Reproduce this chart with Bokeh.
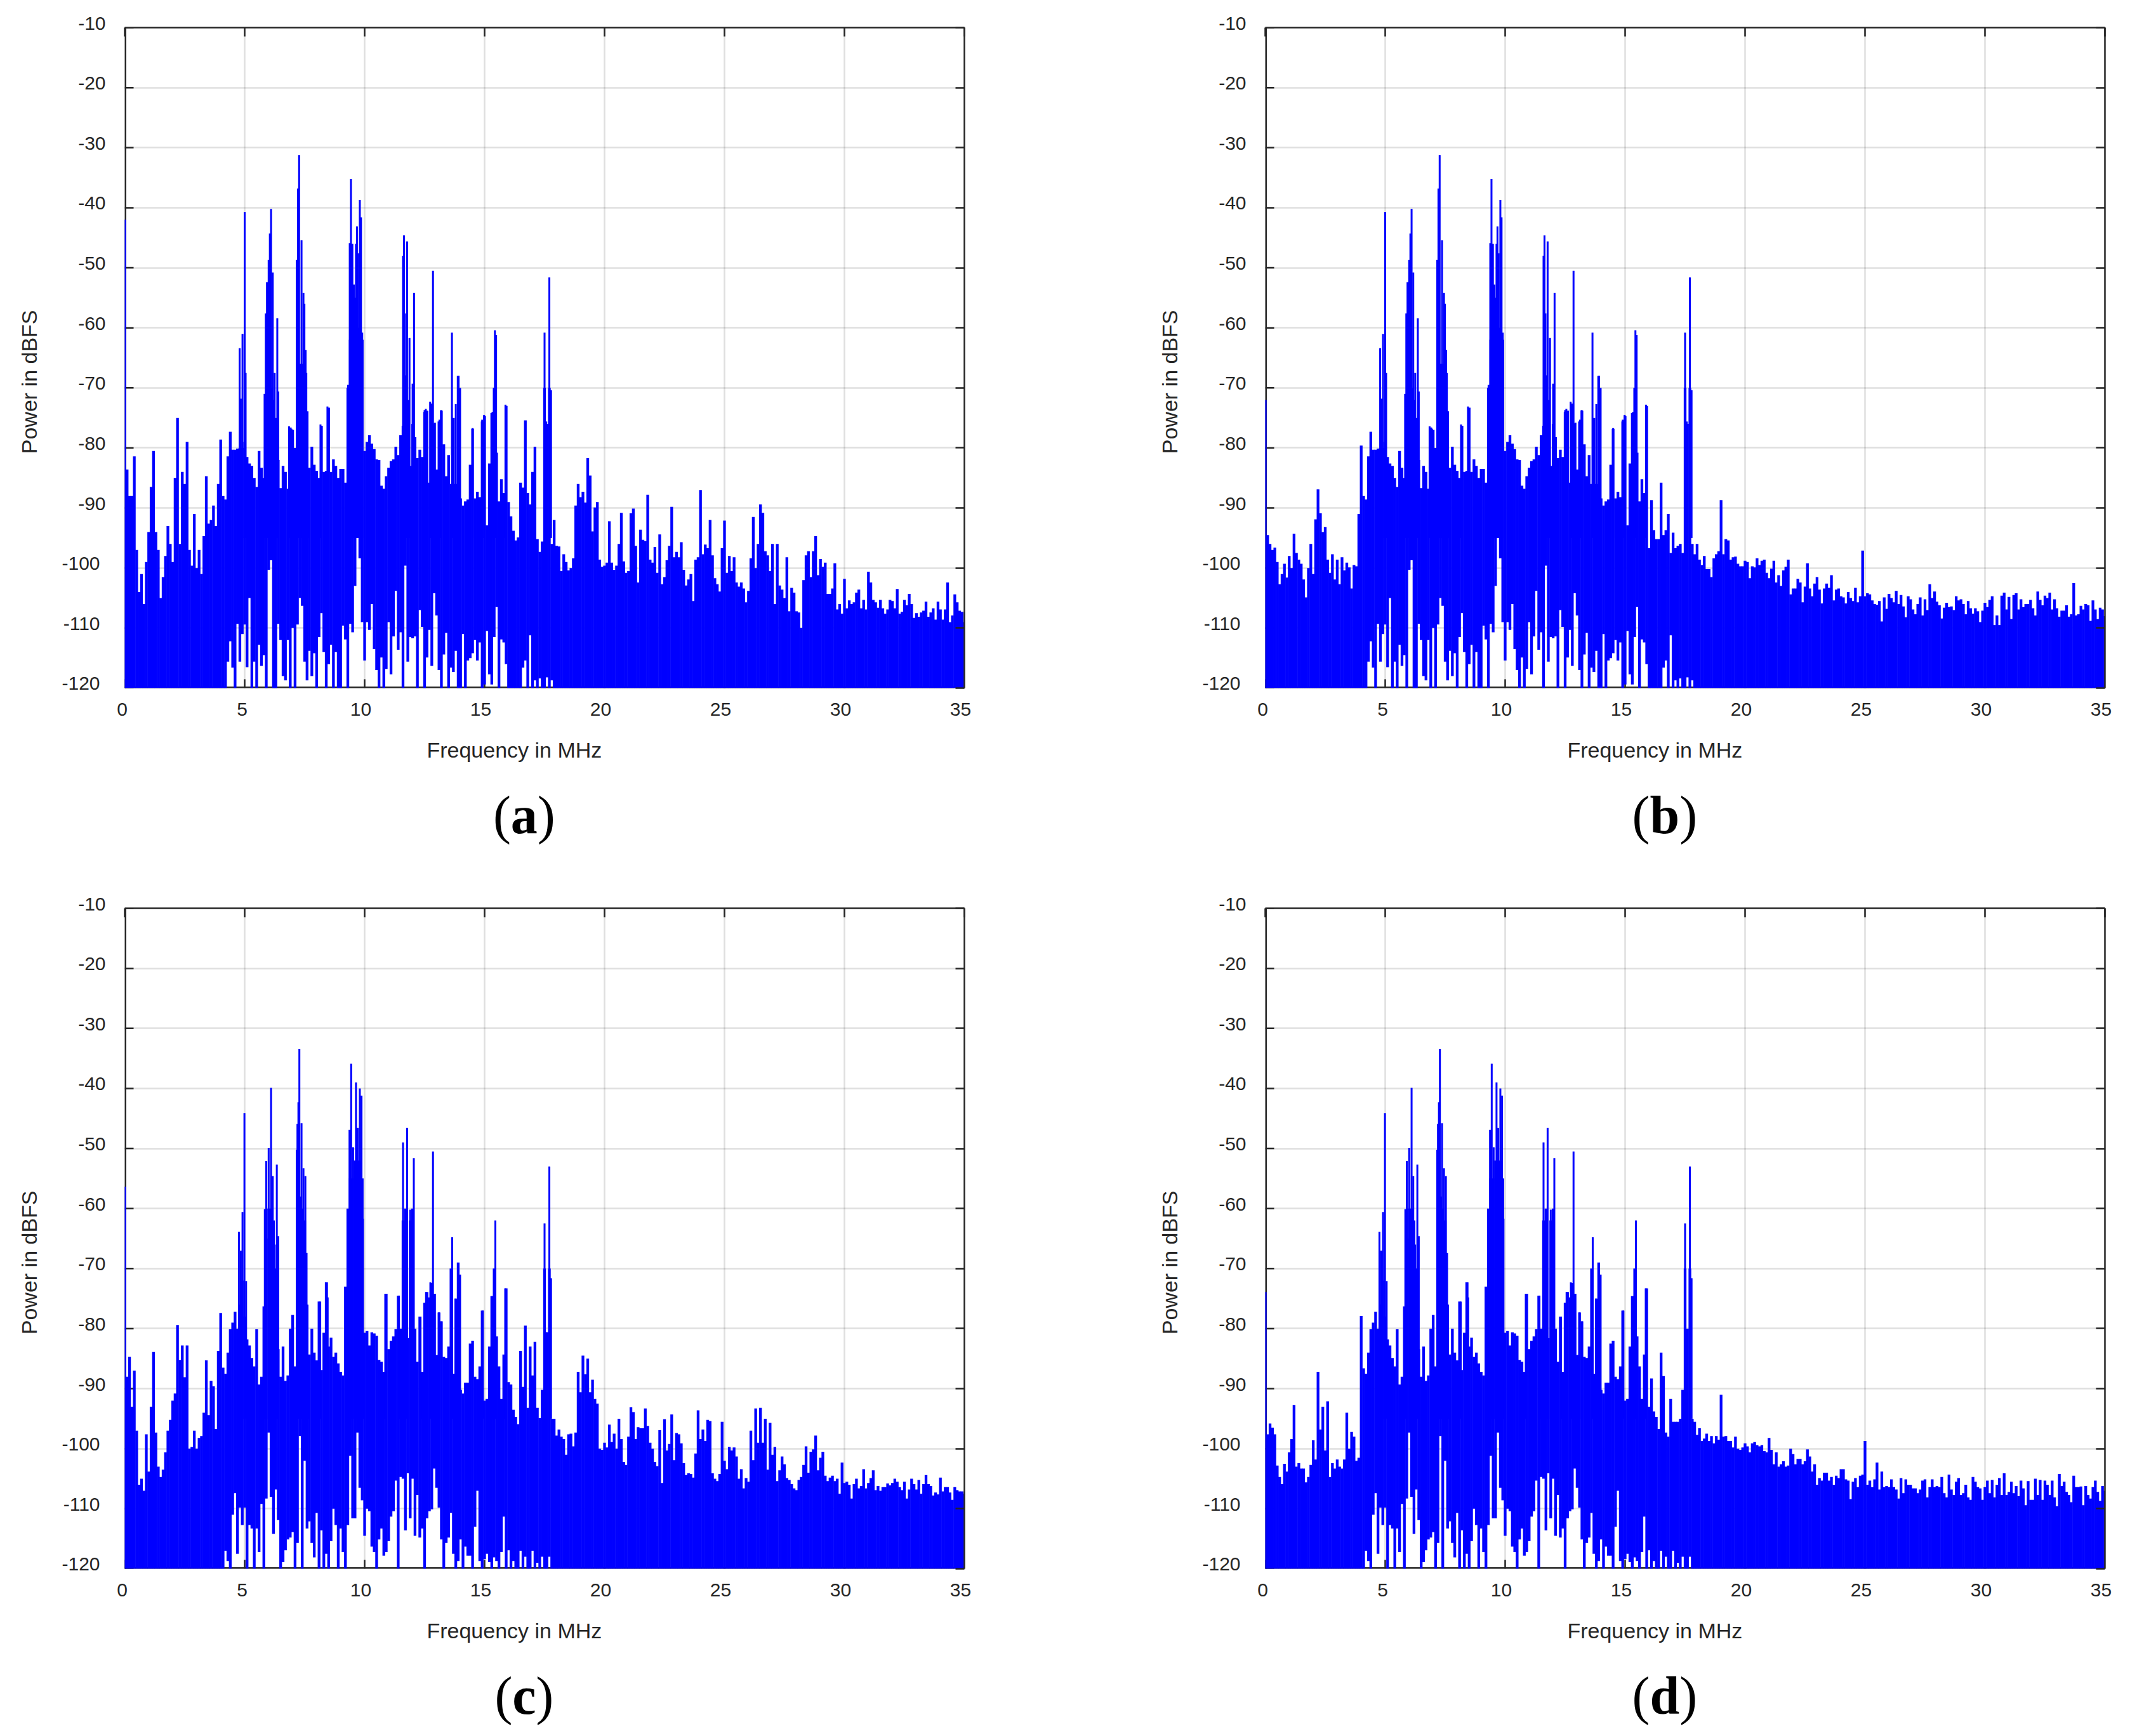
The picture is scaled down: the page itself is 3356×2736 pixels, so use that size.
from bokeh.plotting import figure
from bokeh.layouts import column, row
from bokeh.models import FixedTicker, LinearAxis
from bokeh.core.properties import value
from bokeh.embed import file_html
from bokeh.resources import INLINE

# ---------- values (dBFS per 0.1 MHz bin) ----------
x_ticks = [0, 5, 10, 15, 20, 25, 30, 35]
y_ticks = [-120, -110, -100, -90, -80, -70, -60, -50, -40, -30, -20, -10]
panel_names = ["a", "b", "c", "d"]
x_title = "Frequency in MHz"
y_title = "Power in dBFS"

low_a = [-42,-83.6,-88,-88,-81.4,-97,-104,-101,-106,-99,
         -94,-86.5,-80.5,-94,-97,-105,-101.5,-98,-93,-96,
         -99,-85,-75,-96,-84,-86,-79,-97,-99.6,-91,
         -100,-97,-101,-94.7,-84.7,-92.6,-92,-89.6,-93,-86,
         -78.6,-88]
low_b = [-72,-94.5,-96,-97,-96.6,-99,-102.7,-101,-99.3,-101.6,
         -98,-100,-94.3,-97.5,-98.6,-99.3,-101.9,-104.9,-100,-96,
         -101,-91.9,-86.9,-90.9,-94,-93.2,-98.6,-100.8,-97.7,-101.9,
         -98.6,-102.7,-98.2,-100.4,-99.1,-99.9,-103.4,-99.5,-99.7,-91,
         -79.6,-88]
low_c = [-56.4,-88,-84.7,-93,-87,-97,-106,-105,-107,-97.6,
         -103.8,-93,-83.9,-97.3,-103,-104.7,-103.5,-100.6,-97,-95.2,
         -92,-90.8,-79.4,-85.2,-82.8,-88.1,-82.8,-100,-99.7,-97,
         -100,-98.2,-97.9,-94,-85.3,-94.4,-88.7,-89.6,-96.7,-83.7,
         -77.4,-86.5]
low_d = [-73.9,-97.6,-95.8,-96.5,-97.6,-102.8,-104.7,-105.9,-102.5,-103.8,
         -100.6,-98.4,-92.7,-103,-102.4,-103.3,-103.3,-105.6,-104.7,-102.7,
         -98.6,-101.8,-87.2,-96.8,-93,-100.3,-92.1,-104.7,-102.4,-103.3,
         -101.8,-103,-103.3,-101.8,-94,-100,-97.2,-98,-102,-101.5,
         -77.9,-86.6]

mid_ab = [-88.6,-81.4,-77.3,-80.3,-80.3,-80.1,-80,-80,-79,-81.5,
          -82.6,-83,-85,-86.5,-80.5,-83.3,-85,-72,-70,-70,
          -72,-75,-82,-86.7,-83,-84,-86.8,-76.6,-77,-80,
          -70,-66,-66,-68,-74,-83.3,-79.8,-82.8,-83.8,-85,
          -76.3,-84,-83.8,-73.3,-84,-81.9,-83,-85,-83.5,-83.5,
          -85.8,-70,-62,-60,-60,-60,-60,-62,-80.5,-79,
          -77.9,-79.3,-80.2,-81.9,-82,-86.3,-86.8,-84.7,-83.3,-82.2,
          -81.9,-79.8,-81.2,-77.9,-76.3,-75,-72,-83,-76,-78.2,
          -81.7,-80.3,-81.5,-74,-73.8,-85.8,-72.6,-75.9,-83.6,-75.6,
          -73.8,-79.4,-84.7,-81.2,-86,-75,-86,-68,-88.4,-89.6,
          -88.9,-88.6,-82.8,-76.8,-88.4,-87.3,-88.2,-75.6,-74.7,-92.9,
          -82.6,-74.2,-70,-80.8,-88.9,-85.2,-87.5,-73]
tail_a = [-89,-91.4,
          -93.8,-95.4,-94.9,-85.8,-86.6,-75.4,-87.5,-89.4,-84,-79.8,
          -95.2,-97.3,-95.6,-70,-76,-70,-96]
tail_b = [-96.7,-88.7,
          -93.7,-95.2,-95.2,-85.8,-94.5,-93.7,-91,-97.5,-94.1,-96.7,
          -96.3,-96,-97.5,-70,-76,-70,-96]

mid_cd = [-87.5,-84,-80.1,-79,-77.2,-80,-76,-72,-78,-81.8,
          -82.8,-84.9,-86.3,-80.1,-89.3,-88,-76.3,-65,-60,-60,
          -62,-70,-83.4,-88,-83,-88.7,-87.8,-80,-77.7,-86.3,
          -60,-58,-60,-62,-76,-84.3,-80,-84,-85.3,-75.5,
          -86.9,-80.7,-72.3,-83,-81.5,-84.7,-84,-85.8,-87.2,-87.8,
          -73,-60,-55,-55,-52,-52,-52,-55,-80.7,-80.4,
          -82.8,-80.6,-80.8,-81.2,-85.2,-85.5,-87.2,-74.2,-83.4,-82,
          -81.3,-80.1,-74.5,-80,-62,-60,-81.6,-62,-60,-80,
          -85.5,-78,-87.2,-75.7,-73.9,-74.8,-72.4,-74.2,-84.4,-77.3,
          -78.8,-84.7,-84.9,-83,-70,-87.5,-75,-69,-90.2,-90.8,
          -89,-89,-82.5,-82,-88,-88.4,-86.3,-77,-92,-91.7,
          -83,-74.6,-70,-81.3,-86.3,-91.7,-84.3,-73.3]
tail_c = [-88.9,-89.3,
          -93.5,-94.7,-95.9,-83.7,-89.7,-79.5,-93.2,-83,-87.8,-82.2,
          -93.2,-94.9,-90.2,-70,-80.6,-70,-95]
tail_d = [-93,-88.3,
          -93.8,-94.7,-96.7,-84,-87.9,-97.3,-98,-91.7,-95.5,-95.5,
          -95.5,-95,-90.2,-70,-80,-70,-95]

high_a = [-92,-96.3,-96.4,-100.5,-97.7,-99,-100.4,-100,-98.4,-89.6,
          -86,-88.2,-87.3,-89.1,-81.7,-84.6,-93.9,-89.9,-89,-98.6,
          -99.8,-99.6,-99.1,-92.2,-99.1,-100.3,-99.6,-96,-90.8,-98.9,
          -100.8,-100.5,-90.9,-90.1,-96.3,-102.4,-93.6,-95.3,-95.5,-87.8,
          -98.6,-99.1,-96.5,-100.8,-94.4,-102.7,-101.5,-98.7,-96.3,-89.8,
          -98.2,-97.3,-98.2,-95.7,-100.3,-102.9,-101.9,-101,-105.5,-98.6,
          -98.2,-87,-97.7,-96.1,-96.7,-92,-97.9,-101.7,-102.7,-103.9,
          -96.7,-92.1,-100.8,-98,-100.5,-98.2,-102.4,-103.1,-102.4,-103.4,
          -105.7,-103.8,-98.4,-91.5,-100,-96,-89.4,-90.8,-97.2,-97.9,
          -100.5,-96,-106,-96,-102.9,-103.6,-105,-98.2,-107.2,-103.3,
          -104.1,-107.2,-107.4,-110,-102,-97.9,-97.2,-101.5,-97.2,-94.7,
          -101.2,-98.5,-99.8,-99.1,-104.3,-104.3,-103.4,-99.2,-106.9,-106,
          -107.6,-101.8,-106.7,-105.4,-106,-105.7,-104.1,-103.6,-106.7,-105.3,
          -106.9,-100.6,-102.4,-105.3,-105.7,-106.6,-105.3,-106.7,-107.6,-106.9,
          -105.3,-105.5,-106.7,-103.5,-107.6,-107.3,-105.3,-106.2,-104.3,-106,
          -108.3,-107.5,-108.1,-107.4,-107.1,-105.6,-108.1,-107.4,-106.7,-108.6,
          -105.6,-106.9,-108.6,-106.9,-102.4,-109,-107.9,-104.4,-105.7,-107.1,
          -107.3,-109]
high_b = [-97.7,-96,-98.6,-99.5,-98,-100.2,-100.2,-101.5,-98.4,-97.7,
          -97.2,-88.7,-97.7,-95.2,-95.4,-98.6,-98.2,-98.1,-99.3,-99.7,
          -99.7,-98.8,-99,-101.7,-99.7,-99.9,-98.4,-99.5,-98.8,-98.6,
          -100.8,-101.7,-100.1,-98.8,-102.4,-101.2,-103,-100.4,-99.8,-98.6,
          -104.4,-103.4,-103.4,-101.8,-102.4,-105.7,-103.1,-99.2,-103.4,-104.7,
          -102.6,-101.5,-103.6,-105.9,-103.4,-102.6,-103.3,-101.2,-105.4,-103.6,
          -103.4,-104.7,-104.9,-105.9,-104,-105,-105.5,-103.3,-105.7,-104.7,
          -97.1,-104.7,-104.2,-104.4,-105.4,-106,-106.1,-105.5,-108.9,-104.9,
          -106.8,-104.3,-105,-105.7,-103.8,-106,-104.5,-106.4,-108.2,-104.7,
          -105.2,-106.9,-107.7,-106,-104.9,-107.9,-105.2,-107,-102.7,-105,
          -103.9,-105.6,-106.2,-108.4,-106.6,-105.8,-106.5,-106.4,-107,-104.7,
          -105.4,-105.2,-106,-107.7,-105.5,-106.7,-107.6,-106.7,-107.2,-109,
          -107.1,-105.8,-106.5,-105.3,-104.7,-109.5,-107.9,-109.5,-104.6,-104.1,
          -106.9,-104.8,-108.5,-104.5,-104.2,-106.9,-105.2,-106.5,-106,-106,
          -105.3,-106.7,-107.9,-103.9,-105.3,-106.2,-104.6,-105,-104.1,-106.9,
          -105.2,-106.7,-108.1,-107.1,-107.1,-106.2,-108.1,-107.7,-102.5,-107.9,
          -107.7,-106.3,-106.9,-106,-106.2,-108.8,-105.4,-106.9,-108.5,-106.6,
          -106.9,-108]
high_c = [-95,-97.8,-96.8,-98,-98.4,-101,-97.6,-97.5,-99.6,-97.3,
          -87.2,-90.6,-84.5,-87.6,-85,-90.6,-88.5,-91.7,-92.5,-100,
          -100.2,-99,-99.8,-96,-98.9,-97.5,-100,-95,-98.4,-102.2,
          -102.7,-98,-93.1,-93.9,-98.4,-96.4,-96.6,-96.6,-93.3,-96.2,
          -99,-100,-102.2,-102.9,-96.9,-105.7,-95.1,-100.3,-99.2,-94.3,
          -101.9,-97.4,-97.6,-99.1,-102.4,-104.4,-104.1,-104.2,-104.8,-100.8,
          -93.6,-98.4,-96.8,-98.7,-95.2,-95.4,-104.1,-105,-105.4,-104.2,
          -95.5,-102,-103.4,-99.7,-100.3,-99.8,-101.3,-105,-103.4,-106.6,
          -104.9,-105.5,-97,-101.9,-93.3,-99,-93.2,-99,-95,-103.5,
          -95.7,-101,-99.7,-105.4,-103.6,-101.3,-102.6,-104.9,-105.2,-105.9,
          -106.6,-106.9,-105.2,-104.7,-102.7,-99.6,-104,-100.5,-100.1,-97.8,
          -103.6,-101.5,-100.5,-104.5,-105.4,-104.8,-104.5,-105.4,-105,-107.5,
          -102.3,-105.7,-105.5,-106,-108.3,-105.9,-105,-106.6,-106.2,-103.4,
          -106.6,-105.7,-104.9,-103.6,-106.9,-106.2,-107,-106.4,-106.4,-105.8,
          -106.1,-105.7,-105,-105.5,-106.4,-106.9,-105.5,-108.3,-106.8,-105,
          -105.9,-106.8,-105.2,-107.5,-105.9,-104.4,-105.9,-106.2,-107.8,-107.3,
          -107.6,-104.8,-107.1,-106.4,-106.4,-107.3,-108.5,-106.4,-106.9,-107.1,
          -107.1,-107.5]
high_d = [-95.5,-97.7,-96.6,-98.7,-98.3,-97.5,-98.7,-97.9,-99.1,-97.9,
          -98.5,-91,-98,-97.9,-98.7,-98.7,-99.8,-98,-100,-100.2,
          -99.8,-99.1,-99.6,-100.6,-99.1,-98.9,-99.4,-99.6,-99.4,-100.4,
          -100.6,-98.2,-100.2,-102.6,-100.6,-103,-102.6,-102.1,-103,-102.8,
          -100,-100.9,-102.6,-101.7,-101.7,-102.6,-102.1,-100.1,-101.3,-103.8,
          -102.6,-106,-104.9,-105.3,-104,-104,-105.3,-104.7,-106,-104.5,
          -104.9,-103.4,-103.4,-105.1,-105.3,-108.4,-105.5,-104.9,-106.4,-104.5,
          -104.3,-98.7,-106,-105.3,-106.4,-105.1,-102.3,-106.8,-103.8,-106.4,
          -106.2,-106.4,-105.1,-106.4,-106.8,-108.3,-104.9,-107.4,-105.1,-106,
          -106,-106.6,-106.6,-107.4,-106.8,-105.3,-105.1,-108.1,-106.4,-105.1,
          -106.4,-106.2,-106.4,-104.7,-107.4,-108.1,-104.3,-106.8,-107.7,-105.5,
          -104.9,-107.7,-107.4,-106,-108.1,-108.5,-104.7,-105.5,-106.4,-106.6,
          -108.5,-106.4,-105.3,-107.4,-105.2,-108.1,-106,-104.9,-107.7,-104.1,
          -107.7,-107.2,-105.5,-107.4,-106.2,-107.9,-105.3,-106.6,-109.4,-105.4,
          -108.5,-108.5,-105,-107.7,-105.2,-108.5,-105.3,-106,-107.7,-105.3,
          -108.1,-109.6,-104.2,-106.2,-105.5,-107.2,-107.7,-108.9,-104.5,-106.4,
          -106.4,-106.3,-109.4,-106.2,-107.7,-108.3,-106.4,-105.3,-107.2,-108.7,
          -106.2,-107]

# lower edge of the solid blue, 4.2 to 17.8 MHz (floor elsewhere)
under_ab = [-120,-115.6,-112.2,-116.6,-120,-109.3,-115.6,-111,-109.4,-116.5,
            -105,-120,-115.6,-120,-112.8,-116.3,-114.5,-120,-100.3,-98.7,
            -120,-120,-109.3,-112,-118,-118.7,-112,-120,-110,-120,
            -109.4,-105,-106.3,-115.6,-118.7,-113.8,-118,-114.2,-120,-111.5,
            -107.5,-114,-120,-116,-112.8,-120,-114,-120,-120,-109.6,
            -111.9,-120,-109.3,-110.7,-103,-92.6,-98.4,-109,-115.4,-109,
            -110.3,-106,-113.5,-117,-120,-114.9,-120,-116.8,-109,-117.7,
            -111.4,-103.8,-113.6,-110.7,-120,-99.6,-115.6,-111.5,-111.7,-111.4,
            -120,-107,-109.8,-120,-114.9,-110.3,-116.3,-104.2,-107.9,-117,
            -120,-114.4,-110.8,-120,-116.6,-117.3,-113.8,-120,-120,-111,
            -120,-115.4,-115,-114.2,-112,-115.4,-112.4,-120,-119.4,-110.5,
            -117.7,-119.4,-111.5,-106.5,-120,-111.9,-112.4,-116,-120,-120,
            -120,-120,-120,-120,-116.6,-115.4,-120,-111.2,-120,-118.7,
            -120,-118.4,-120,-120,-118.2,-120,-118.7]
under_cd = [-117,-118.7,-120,-111,-107.4,-117.5,-109.8,-112.7,-109.8,-120,
            -112.7,-113.3,-120,-113.3,-117.2,-109.2,-120,-108.3,-97.3,-108,
            -114.2,-106.8,-111.9,-120,-118.9,-116.9,-115.1,-114.8,-113.9,-120,
            -115.7,-97.9,-120,-102,-113.3,-112.1,-115.7,-118.1,-110.7,-120,
            -113.6,-120,-117.5,-120,-115.4,-110,-112.7,-120,-113.3,-117.2,
            -120,-112.7,-101.2,-111.6,-111.6,-97.3,-106.5,-108.6,-114.5,-110,
            -110.4,-116.3,-117.2,-120,-115.1,-113.3,-117.8,-117.2,-115.4,-111.3,
            -110.4,-105.3,-120,-104.7,-105,-113.6,-104.1,-111.6,-105,-114.5,
            -107.7,-114.8,-113.3,-120,-111.6,-110.4,-110.1,-103.3,-106.5,-109.8,
            -115.1,-120,-115.7,-114.8,-110.7,-117.5,-120,-118.7,-115.1,-120,
            -116.3,-117.8,-117.8,-120,-113,-107,-118.7,-120,-118.4,-117.5,
            -118.9,-120,-118.1,-118.7,-120,-117.2,-111.3,-120,-116.9,-120,
            -118.7,-120,-120,-117,-120,-118,-120,-120,-117,-120,
            -119,-120,-118,-120,-120,-118,-120]

# narrow spectral lines (MHz, dBFS)
line_f_ab = [4.79,4.84,4.91,5.0,5.04,5.83,5.88,5.93,6.0,6.05,6.1,6.17,6.25,6.36,6.4,6.85,6.95,
             7.17,7.22,7.27,7.37,7.45,7.49,7.54,7.57,7.62,8.16,8.45,9.31,9.38,9.43,9.49,9.55,
             9.6,9.64,9.68,9.73,9.8,9.85,9.9,11.6,11.64,11.68,11.72,11.77,11.87,12.0,12.06,
             12.5,12.55,12.73,12.85,12.93,13.12,13.19,13.64,13.8,13.91,13.98,14.5,14.9,14.98,
             15.33,15.43,15.48,15.87,17.5,17.57,17.7,17.77]
line_db_ab = [-63.4,-71.8,-61,-40.7,-67.5,-71,-57.6,-52.4,-48.7,-44.3,-40.2,-50.8,-67.5,-58.4,-70.6,-76.4,-76.8,
              -48.7,-36.8,-31.2,-45.4,-54.2,-56,-63.7,-67.5,-73.9,-76.1,-73.1,-69.5,-45.9,-35.2,-46,-52.8,
              -55,-46,-43.1,-47.6,-38.7,-41.6,-60.8,-48,-44.6,-57.6,-67.9,-45.6,-61.7,-69.3,-54.2,
              -73.7,-73.5,-72.3,-50.5,-75.8,-75.3,-73.7,-60.8,-72.7,-68,-70,-76.7,-75.3,-74.5,
              -74,-60.4,-61.2,-72.8,-60.8,-75.6,-51.6,-70.4]
line_f_cd = [4.76,4.84,4.91,4.99,5.06,5.84,5.9,6.0,6.1,6.17,6.25,6.34,6.4,
             7.17,7.2,7.24,7.28,7.37,7.45,7.53,7.58,7.62,8.15,8.43,8.46,9.3,9.37,9.44,9.52,
             9.64,9.71,9.8,9.87,9.93,10.86,11.43,11.6,11.77,11.9,11.98,12.05,12.33,12.5,12.56,
             12.74,12.85,12.93,13.1,13.2,13.65,13.79,13.89,13.98,14.93,15.31,15.45,15.86,17.5,
             17.58,17.7,17.77]
line_db_cd = [-63.9,-67,-60.6,-44.1,-72.1,-60.1,-52.1,-49.9,-39.9,-54.6,-66,-52.7,-64.6,
              -50.2,-45.9,-42.3,-33.4,-45.8,-53.3,-54.6,-67.4,-76.1,-75.5,-72.3,-74.8,-73,-46.9,-35.9,-49.8,
              -39,-46.6,-40,-41.2,-61.7,-74.2,-74.5,-49,-46.6,-60.2,-67.7,-51.6,-78,-75.7,-73.9,
              -72.3,-50.5,-74.2,-77.3,-78.8,-64.8,-75,-69.3,-71,-77,-74.6,-62,-73.3,-62.5,
              -80.6,-53,-71.6]

# ---------- series per panel ----------
tops = {
    "a": low_a + mid_ab + tail_a + high_a,
    "b": low_b + mid_ab + tail_b + high_b,
    "c": low_c + mid_cd + tail_c + high_c,
    "d": low_d + mid_cd + tail_d + high_d,
}
unders = {"a": under_ab, "b": under_ab, "c": under_cd, "d": under_cd}
lines = {"a": (line_f_ab, line_db_ab), "b": (line_f_ab, line_db_ab),
         "c": (line_f_cd, line_db_cd), "d": (line_f_cd, line_db_cd)}
letter_width = {"a": 42, "b": 47, "c": 37, "d": 47}

INK = "#262626"
BLUE = "#0000ff"
SANS = value("Liberation Sans")
SERIF = value("Liberation Serif")


def blank_axis(ticker):
    return LinearAxis(ticker=FixedTicker(ticks=ticker),
                      major_label_overrides={t: "" for t in ticker},
                      axis_line_color=INK, axis_line_width=2.5,
                      major_tick_line_color=INK, major_tick_line_width=2.5,
                      major_tick_in=14, major_tick_out=0,
                      minor_tick_line_color=None)


def outside_text(p, x, y, text, **kw):
    """Real text outside the frame: anchored on the scales, moved by a pixel offset."""
    r = p.text(x, y, text=text, **kw)
    r.level = "annotation"
    return r


def panel(name, width, height, border_right, border_bottom):
    p = figure(width=width, height=height, output_backend="svg", toolbar_location=None,
               x_range=(0, 35), y_range=(-120, -10), x_axis_location=None, y_axis_location=None,
               min_border_left=196, min_border_right=border_right,
               min_border_top=43, min_border_bottom=border_bottom,
               outline_line_color=None, background_fill_color="white")

    p.add_layout(blank_axis(y_ticks), "right")
    p.add_layout(blank_axis(x_ticks), "above")

    p.xgrid.ticker = FixedTicker(ticks=x_ticks)
    p.ygrid.ticker = FixedTicker(ticks=y_ticks)
    for g in (p.xgrid, p.ygrid):
        g.grid_line_color = INK
        g.grid_line_alpha = 0.15
        g.grid_line_width = 2.5

    xmin, xmax = p.x_range.start, p.x_range.end
    ymin, ymax = p.y_range.start, p.y_range.end

    # left and bottom ticks and spines sit below the trace, which covers them
    tick_x = 14 / 37.8
    tick_y = 14 / 9.46
    p.segment(x_ticks, [ymin] * len(x_ticks), x_ticks, [ymin + tick_y] * len(x_ticks),
              line_color=INK, line_width=2.5)
    p.segment([xmin] * len(y_ticks), y_ticks, [xmin + tick_x] * len(y_ticks), y_ticks,
              line_color=INK, line_width=2.5)
    p.segment([xmin, xmin], [ymin, ymin], [xmax, xmin], [ymin, ymax], line_color=INK, line_width=5)

    top = tops[name]
    f = [i / 10 for i in range(len(top))]
    under = [ymin] * len(top)
    for i, v in enumerate(unders[name]):
        under[42 + i] = v
    p.segment(f, under, f, top, line_color=BLUE, line_width=4.3, line_cap="butt")

    lf, ld = lines[name]
    p.segment(lf, [-95.0] * len(lf), lf, ld, line_color=BLUE, line_width=3, line_cap="butt")

    # tick labels
    outside_text(p, x_ticks, [ymin] * len(x_ticks), [str(t) for t in x_ticks],
                 x_offset=[-4 if t < 10 else -6 for t in x_ticks], y_offset=33,
                 text_align="center", text_baseline="middle", text_font=SANS,
                 text_font_size="30px", text_color=INK)
    outside_text(p, [xmin] * len(y_ticks), y_ticks, [str(t) for t in y_ticks],
                 x_offset=[-39 if t <= -100 else -30 for t in y_ticks],
                 y_offset=[-8 if t == ymin else -7 for t in y_ticks],
                 text_align="right", text_baseline="middle", text_font=SANS,
                 text_font_size="30px", text_color=INK)

    # axis titles
    outside_text(p, [16.24], [ymin], [x_title], y_offset=97, text_align="center",
                 text_baseline="middle", text_font=SANS, text_font_size="34px", text_color=INK)
    outside_text(p, [xmin], [-69], [y_title], x_offset=-151, angle=90, angle_units="deg",
                 text_align="center", text_baseline="middle", text_font=SANS,
                 text_font_size="34px", text_color=INK)

    # panel letter: regular brackets, bold letter
    w = letter_width[name]
    for t, align, off, style in (("(", "right", -w / 2, "normal"), (name, "center", 0, "bold"),
                                 (")", "left", w / 2, "normal")):
        outside_text(p, [16.65], [ymin], [t], x_offset=off, y_offset=200, text_align=align,
                     text_baseline="middle", text_font=SERIF, text_font_size="84px",
                     text_font_style=style, text_color="black")
    return p


a = panel("a", 1797, 1388, 278, 304)
b = panel("b", 1554, 1388, 35, 304)
c = panel("c", 1797, 1342, 278, 258)
d = panel("d", 1554, 1342, 35, 258)

page = column(row(a, b, spacing=0), row(c, d, spacing=0), spacing=0)
open("out.html", "w").write(file_html(page, INLINE))
